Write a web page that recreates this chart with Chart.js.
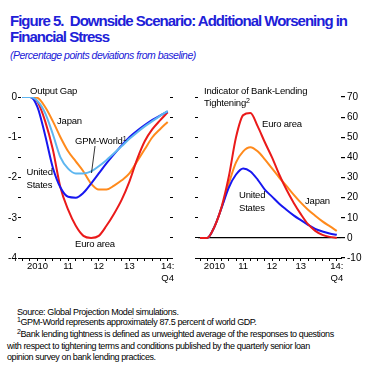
<!DOCTYPE html>
<html>
<head>
<meta charset="utf-8">
<script src="https://cdn.jsdelivr.net/npm/chart.js@4.4.1/dist/chart.umd.min.js"></script>
<style>
  html, body { margin: 0; padding: 0; background: #fff; }
  body { width: 367px; height: 371px; position: relative; overflow: hidden; font-family: 'Liberation Sans', Arial, sans-serif; }
  .abs { position: absolute; white-space: nowrap; }
  canvas { position: absolute; }
  .title { left: 10px; top: 13px; font-size: 15px; line-height: 16px; font-weight: bold; color: #2020d8; letter-spacing: -1px; }
  .sub { left: 10px; top: 49px; font-size: 10.5px; line-height: 12px; font-style: italic; color: #2020d8; letter-spacing: -0.5px; }
  .lbl { font-size: 9.5px; line-height: 11px; color: #000; letter-spacing: -0.2px; z-index: 5; }
  .foot { left: 7px; top: 306.5px; font-size: 9px; line-height: 10.8px; color: #000; letter-spacing: -0.4px; }
  .sup { font-size: 7px; position: relative; top: -3px; }
</style>
</head>
<body>
<div class="abs title">Figure 5.&nbsp; Downside Scenario: Additional Worsening in<br>Financial Stress</div>
<div class="abs sub">(Percentage points deviations from baseline)</div>

<canvas id="left" width="190" height="210" style="left:0px;top:80px;"></canvas>
<canvas id="right" width="177" height="210" style="left:190px;top:80px;"></canvas>

<div class="abs lbl" style="left:30px;top:84.5px;">Output Gap</div>
<div class="abs lbl" style="left:204px;top:84.5px;">Indicator of Bank-Lending</div>
<div class="abs lbl" style="left:204px;top:97.2px;">Tightening<span class="sup">2</span></div>

<div class="abs lbl" style="left:57px;top:114.5px;">Japan</div>
<div class="abs lbl" style="left:75px;top:134.5px;">GPM-World<span class="sup">1</span></div>
<div class="abs lbl" style="left:26.5px;top:166px;line-height:12.5px;">United<br>States</div>
<div class="abs lbl" style="left:75px;top:238px;">Euro area</div>

<div class="abs lbl" style="left:262px;top:118px;">Euro area</div>
<div class="abs lbl" style="left:239px;top:188px;line-height:13.3px;">United<br>States</div>
<div class="abs lbl" style="left:305px;top:194.5px;">Japan</div>

<svg class="abs" style="left:0;top:0;z-index:5;" width="367" height="371">
  <line x1="95" y1="146" x2="91.5" y2="173" stroke="#000" stroke-width="0.8"/>
</svg>

<div class="abs foot">
  <span style="margin-left:10px;">Source: Global Projection Model simulations.</span><br>
  <span style="margin-left:10px;"><span class="sup">1</span>GPM-World represents approximately 87.5 percent of world GDP.</span><br>
  <span style="margin-left:10px;"><span class="sup">2</span>Bank lending tightness is defined as unweighted average of the responses to questions</span><br>
  with respect to tightening terms and conditions published by the quarterly senior loan<br>
  opinion survey on bank lending practices.
</div>

<script>
// ---- Data (quarterly, 2010Q1 .. 2014Q4) ----
const quarters = ['2010Q1','2010Q2','2010Q3','2010Q4','2011Q1','2011Q2','2011Q3','2011Q4',
                  '2012Q1','2012Q2','2012Q3','2012Q4','2013Q1','2013Q2','2013Q3','2013Q4',
                  '2014Q1','2014Q2','2014Q3','2014Q4'];
const xTickLabels = ['', '', '2010', '', '', '', '11', '', '', '', '12', '', '', '', '13', '', '', '', '', ['14:', 'Q4']];

// Output gap (percentage points)
const gapWorld  = [0, 0, -0.1, -0.4, -0.92, -1.5, -1.78, -1.9, -1.9, -1.85, -1.72, -1.57, -1.4, -1.22, -1.04, -0.88, -0.73, -0.6, -0.47, -0.35];
const gapUS     = [0, 0, -0.25, -0.95, -1.75, -2.25, -2.48, -2.5, -2.38, -2.15, -1.9, -1.65, -1.42, -1.2, -1.0, -0.84, -0.7, -0.57, -0.46, -0.36];
const gapEuro   = [0, 0, -0.12, -0.6, -1.3, -2.25, -2.8, -3.2, -3.45, -3.5, -3.45, -3.2, -2.9, -2.55, -2.1, -1.55, -1.1, -0.8, -0.58, -0.38];
const gapJapan  = [0, 0, -0.02, -0.25, -0.6, -1.0, -1.35, -1.6, -1.85, -2.15, -2.3, -2.3, -2.2, -2.07, -1.9, -1.6, -1.3, -1.0, -0.8, -0.62];

// Indicator of bank-lending tightening
const lendEuro  = [0, 0, 5.5, 15.5, 30.5, 50, 61, 62, 55.5, 47.5, 40, 31.5, 24, 17.5, 11.8, 6.8, 3.5, 1.5, 0.5, 0];
const lendJapan = [0, 0, 5.5, 15, 27, 37.5, 43, 45, 43, 39, 34.5, 30, 25.8, 21.5, 17.5, 14, 11, 8.2, 5.8, 3.5];
const lendUS    = [0, 0, 5.5, 15, 25, 31.5, 34.5, 33, 29, 24, 20.5, 17, 14, 11.2, 8.8, 6.5, 4.5, 3.2, 2.2, 1.5];

const gapTicks = [0, -1, -2, -3, -4];
const lendTicks = [70, 60, 50, 40, 30, 20, 10, 0, -10];

// ---- Styles ----
const C_BLUE = '#1717f0', C_RED = '#ea1a1a', C_ORANGE = '#ff8a1c', C_LBLUE = '#5db6f0';
Chart.defaults.font.family = "'Liberation Sans', Arial, sans-serif";
Chart.defaults.color = '#000';

const toXY = arr => arr.map((v, i) => ({ x: i, y: v }));
const line = (data, color) => ({ data: toXY(data), borderColor: color, borderWidth: 2, pointRadius: 0, cubicInterpolationMode: 'monotone', fill: false });

function xAxis(min, max) {
  return {
    type: 'linear', min, max,
    afterBuildTicks: s => { s.ticks = quarters.map((_, i) => ({ value: i })); },
    afterFit: s => { s.height = 32; },
    ticks: { autoSkip: false, maxRotation: 0, padding: 0, font: { size: 9.5 },
             callback: v => xTickLabels[v] },
    grid: { drawOnChartArea: false, tickLength: 3, tickColor: '#000' },
    border: { display: true, color: '#000', width: 1 }
  };
}

new Chart(document.getElementById('left'), {
  type: 'line',
  data: { datasets: [
    line(gapWorld, C_LBLUE),
    line(gapUS, C_BLUE),
    line(gapEuro, C_RED),
    line(gapJapan, C_ORANGE)
  ]},
  options: {
    responsive: false, animation: false, devicePixelRatio: 1,
    layout: { padding: { top: 17, left: 0, right: 0, bottom: 0 } },
    plugins: { legend: { display: false }, tooltip: { enabled: false } },
    scales: {
      x: xAxis(-0.15, 19.3),
      y: {
        position: 'left', min: -4, max: 0,
        afterBuildTicks: s => { const t = []; for (let v = 0; v >= -4; v -= 0.5) t.push({ value: v }); s.ticks = t; },
        afterFit: s => { s.width = 21; },
        ticks: { padding: 1, font: { size: 10 }, callback: v => gapTicks.includes(v) ? String(v) : '' },
        grid: { drawOnChartArea: false, tickLength: 3, tickColor: '#000' },
        border: { display: false }
      },
      y2: {
        position: 'right', min: -4, max: 0,
        afterBuildTicks: s => { const t = []; for (let v = 0; v >= -4; v -= 0.5) t.push({ value: v }); s.ticks = t; },
        afterFit: s => { s.width = 20; },
        ticks: { callback: () => '' },
        grid: { drawOnChartArea: false, tickLength: 3, tickColor: '#000' },
        border: { display: false }
      }
    }
  }
});

new Chart(document.getElementById('right'), {
  type: 'line',
  data: { datasets: [
    line(lendEuro, C_RED),
    line(lendUS, C_BLUE),
    line(lendJapan, C_ORANGE)
  ]},
  options: {
    responsive: false, animation: false, devicePixelRatio: 1,
    layout: { padding: { top: 17, left: 0, right: 0, bottom: 0 } },
    plugins: { legend: { display: false }, tooltip: { enabled: false } },
    scales: {
      x: xAxis(-0.28, 19.58),
      yl: {
        position: 'left', min: -10, max: 70,
        afterBuildTicks: s => { const t = []; for (let v = 70; v >= -10; v -= 5) t.push({ value: v }); s.ticks = t; },
        afterFit: s => { s.width = 8; },
        ticks: { callback: () => '' },
        grid: { drawOnChartArea: false, tickLength: 3, tickColor: '#000' },
        border: { display: false }
      },
      y: {
        position: 'right', min: -10, max: 70,
        afterBuildTicks: s => { const t = []; for (let v = 70; v >= -10; v -= 5) t.push({ value: v }); s.ticks = t; },
        afterFit: s => { s.width = 26; },
        ticks: { padding: 2, font: { size: 10 }, callback: v => lendTicks.includes(v) ? String(v) : '' },
        grid: { drawOnChartArea: true, tickLength: 4, tickColor: '#000',
                color: c => (c.tick && c.tick.value === 0) ? '#000' : 'rgba(0,0,0,0)', lineWidth: 1.2 },
        border: { display: false }
      }
    }
  }
});
</script>
</body>
</html>
